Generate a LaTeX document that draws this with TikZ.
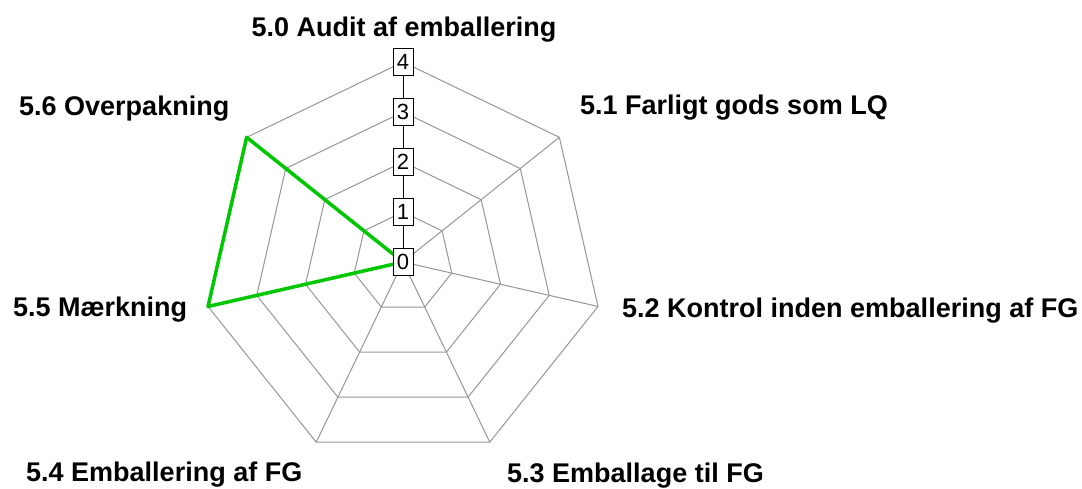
\documentclass[tikz,border=0pt]{standalone}
\usepackage{fontspec}
\newfontfamily\chartfont{Liberation Sans}
\usepackage{tikz}

\definecolor{gridgray}{RGB}{150,150,150}
\definecolor{scoregreen}{RGB}{0,200,0}

\begin{document}
\begin{tikzpicture}[x=1pt, y=1pt,
    axislabel/.style={font=\chartfont\bfseries\fontsize{27}{31}\selectfont, inner sep=0pt},
    levelbox/.style={draw, line width=1pt, fill=white, font=\chartfont\fontsize{22}{24}\selectfont,
        inner sep=0pt, minimum width=20pt, minimum height=27pt},
    gridline/.style={gridgray, line width=1pt}]
    \useasboundingbox (0,0) rectangle (1082,489);

    \begin{scope}[shift={(403,227)}]
        % rings for levels 1 to 4
        \foreach \l in {1,...,4}
            \draw[gridline] (90:50*\l) \foreach \k in {1,...,6} { -- (90-\k*360/7:50*\l) } -- cycle;

        % spokes
        \foreach \k in {1,...,6}
            \draw[gridline] (0,0) -- (90-\k*360/7:200);
        \draw[black, line width=1pt] (0,0) -- (0,200);

        % score polygon (5.0 to 5.4 = 0, 5.5 = 4, 5.6 = 4)
        \draw[scoregreen, line width=3.5pt, line join=round]
            (0,0) -- (90-5*360/7:200) -- (90-6*360/7:200) -- cycle;

        % level boxes
        \foreach \l in {0,...,4}
            \node[levelbox] (lvl\l) at (0,50*\l) {\l};
    \end{scope}

    % axis labels
    \node[axislabel, anchor=base] (ax0) at (404,452) {5.0 Audit af emballering};
    \node[axislabel, anchor=base west] (ax1) at (580,374) {5.1 Farligt gods som LQ};
    \node[axislabel, anchor=base west] (ax2) at (622,171) {5.2 Kontrol inden emballering af FG};
    \node[axislabel, anchor=base west] (ax3) at (507,6) {5.3 Emballage til FG};
    \node[axislabel, anchor=base west] (ax4) at (26,7) {5.4 Emballering af FG};
    \node[axislabel, anchor=base west] (ax5) at (13,172) {5.5 Mærkning};
    \node[axislabel, anchor=base west] (ax6) at (19,373) {5.6 Overpakning};
\end{tikzpicture}
\end{document}
